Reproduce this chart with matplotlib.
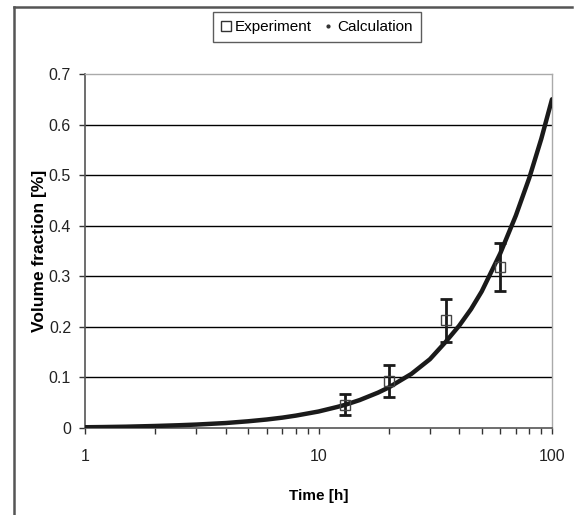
import matplotlib
matplotlib.use("Agg")
import matplotlib.pyplot as plt
from matplotlib.lines import Line2D
from matplotlib import font_manager

names = {f.name for f in font_manager.fontManager.ttflist}
fam = "Liberation Sans Narrow" if "Liberation Sans Narrow" in names else "Liberation Sans"
plt.rcParams['font.family'] = [fam, 'DejaVu Sans']

# Data
exp_t = [13, 20, 35, 60]
exp_v = [0.046, 0.093, 0.213, 0.318]
exp_err = [0.021, 0.031, 0.042, 0.048]

calc_t = [1.0, 1.2, 1.5, 2.0, 2.5, 3.0, 4.0, 5.0, 6.0, 7.0, 8.0, 10.0, 12.0, 13.0, 15.0,
          18.0, 20.0, 25.0, 30.0, 35.0, 40.0, 45.0, 50.0, 60.0, 70.0, 80.0, 90.0, 100.0]
calc_v = [0.0015, 0.0019, 0.0026, 0.0040, 0.0054, 0.0068, 0.0098, 0.0133, 0.0168, 0.0205,
          0.0245, 0.0326, 0.0415, 0.0458, 0.0552, 0.0700, 0.0802, 0.107, 0.136, 0.170,
          0.202, 0.235, 0.270, 0.345, 0.420, 0.495, 0.572, 0.650]

yticks = [0, 0.1, 0.2, 0.3, 0.4, 0.5, 0.6, 0.7]
ytick_labels = ["0", "0.1", "0.2", "0.3", "0.4", "0.5", "0.6", "0.7"]
xticks = [1, 10, 100]
xtick_labels = ["1", "10", "100"]

fig = plt.figure(figsize=(5.74, 5.15), dpi=100)
ax = fig.add_axes([85/574, 1-428/515, (552-85)/574, (428-74)/515])

ax.set_xscale('log')
ax.set_xlim(1, 100)
ax.set_ylim(0, 0.7)

for y in yticks[1:-1]:
    ax.axhline(y, color='black', lw=1.0, zorder=1)

ax.plot(calc_t, calc_v, color='#1a1a1a', lw=3.2, solid_capstyle='round', zorder=3)

ax.errorbar(exp_t, exp_v, yerr=exp_err, fmt='none', ecolor='#1a1a1a', elinewidth=2.0,
            capsize=4, capthick=2.0, zorder=4)
ax.plot(exp_t, exp_v, linestyle='none', marker='s', markersize=7, markerfacecolor='none',
        markeredgecolor='#444444', markeredgewidth=1.0, zorder=5)

ax.set_yticks(yticks)
ax.set_yticklabels(ytick_labels)
ax.set_xticks(xticks)
ax.set_xticklabels(xtick_labels)
ax.tick_params(axis='y', which='major', direction='out', length=4, width=1, pad=6,
               labelsize=11.5, colors='#333333', labelcolor='#222222')
ax.tick_params(axis='x', which='both', direction='out', length=4, width=1, pad=11,
               labelsize=11.5, colors='#333333', labelcolor='#222222')
ax.tick_params(axis='x', which='minor', labelbottom=False)

for s in ['left', 'bottom']:
    ax.spines[s].set_color('#555555')
    ax.spines[s].set_linewidth(1.2)
for s in ['top', 'right']:
    ax.spines[s].set_color('#aaaaaa')
    ax.spines[s].set_linewidth(1.0)

ax.set_xlabel("Time [h]", fontsize=11, fontweight='bold', labelpad=18)
ax.set_ylabel("Volume fraction [%]", fontsize=12.5, fontweight='bold', labelpad=1)

handles = [Line2D([], [], linestyle='none', marker='s', markersize=7, markerfacecolor='none',
                  markeredgecolor='#333333', markeredgewidth=1.0),
           Line2D([], [], linestyle='none', marker='.', markersize=4, color='#333333')]
leg = fig.legend(handles, ["Experiment", "Calculation"], loc='center',
                 bbox_to_anchor=(317/574, 1-27/515), ncol=2, fontsize=11,
                 frameon=True, fancybox=False, edgecolor='#333333', handlelength=0.6,
                 handletextpad=0.25, columnspacing=0.8, borderpad=0.55)
leg.get_frame().set_linewidth(1.0)

fig.add_artist(Line2D([14/574, 14/574], [0, 1-7/515], transform=fig.transFigure,
                      color='#555555', lw=1.8))
fig.add_artist(Line2D([14/574, 572/574], [1-7/515, 1-7/515], transform=fig.transFigure,
                      color='#555555', lw=1.8))

fig.savefig("out.png", dpi=100)
